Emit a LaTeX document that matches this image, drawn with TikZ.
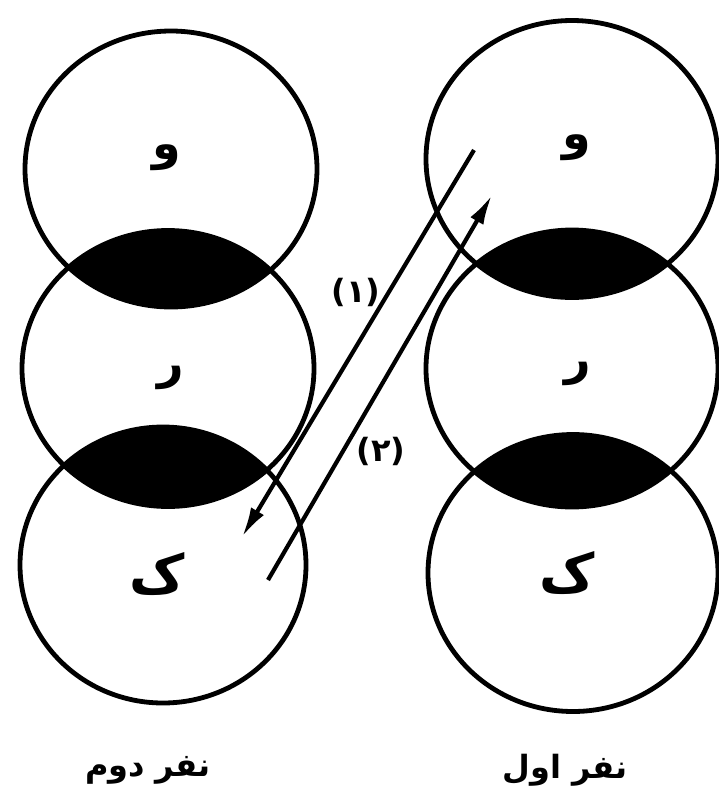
\documentclass[tikz,border=0pt]{standalone}
\usepackage{fontspec}
\usetikzlibrary{arrows.meta}
\TeXXeTstate=1
\newfontfamily\fa[Script=Arabic]{DejaVu Sans}
\tikzset{
  ring/.style={line width=4.8pt},
  lens/.style={fill=black},
  letter/.style={font=\fa\bfseries\fontsize{46}{46}\selectfont, inner sep=0pt},
  bigletter/.style={font=\fa\bfseries\fontsize{54}{54}\selectfont, inner sep=0pt},
  caption/.style={font=\fa\bfseries\fontsize{32}{32}\selectfont, inner sep=0pt},
  num/.style={font=\fa\bfseries\fontsize{32}{32}\selectfont, inner sep=0pt},
  flow/.style={line width=4.2pt, -{Latex[length=30pt,width=15pt]}}
}
\begin{document}
\begin{tikzpicture}[x=1pt,y=-1pt]
\useasboundingbox (0,0) rectangle (719,807);
% centres
\coordinate (L1) at (171,169);
\coordinate (L2) at (168,368.5);
\coordinate (L3) at (163,565);
\coordinate (R1) at (572,159);
\coordinate (R2) at (572,368.5);
\coordinate (R3) at (573,573);
% lenses
\begin{scope}
  \clip (L1) ellipse [x radius=146pt, y radius=138pt];
  \fill[lens] (L2) ellipse [x radius=146pt, y radius=138pt];
\end{scope}
\begin{scope}
  \clip (L2) ellipse [x radius=146pt, y radius=138pt];
  \fill[lens] (L3) ellipse [x radius=143pt, y radius=138pt];
\end{scope}
\begin{scope}
  \clip (R1) ellipse [x radius=146pt, y radius=138.5pt];
  \fill[lens] (R2) ellipse [x radius=146pt, y radius=138.5pt];
\end{scope}
\begin{scope}
  \clip (R2) ellipse [x radius=146pt, y radius=138.5pt];
  \fill[lens] (R3) ellipse [x radius=145pt, y radius=138.5pt];
\end{scope}
% rings
\draw[ring] (L1) ellipse [x radius=146pt, y radius=138pt];
\draw[ring] (L2) ellipse [x radius=146pt, y radius=138pt];
\draw[ring] (L3) ellipse [x radius=143pt, y radius=138pt];
\draw[ring] (R1) ellipse [x radius=146pt, y radius=138.5pt];
\draw[ring] (R2) ellipse [x radius=146pt, y radius=138.5pt];
\draw[ring] (R3) ellipse [x radius=145pt, y radius=138.5pt];
% letters
\node[letter] (lv) at (167,158) {\beginR و\endR};
\node[letter] (rv) at (577,148) {\beginR و\endR};
\node[letter] (lr) at (171,378) {\beginR ر\endR};
\node[letter] (rr) at (578,374) {\beginR ر\endR};
\node[bigletter] (lk) at (157,574) {\beginR ک\endR};
\node[bigletter] (rk) at (567,573) {\beginR ک\endR};
% captions
\node[caption] (c2) at (148,770) {\beginR نفر دوم\endR};
\node[caption] (c1) at (565,770) {\beginR نفر اول\endR};
% arrows
\coordinate (a1s) at (474,150);
\coordinate (a1e) at (242,537);
\coordinate (a2s) at (268,580);
\coordinate (a2e) at (492,195);
\draw[flow] (a1s) -- (a1e);
\draw[flow] (a2s) -- (a2e);
\node[num] (n1) at (356,292) {(۱)};
\node[num] (n2) at (381,451) {(۲)};
\end{tikzpicture}
\end{document}
